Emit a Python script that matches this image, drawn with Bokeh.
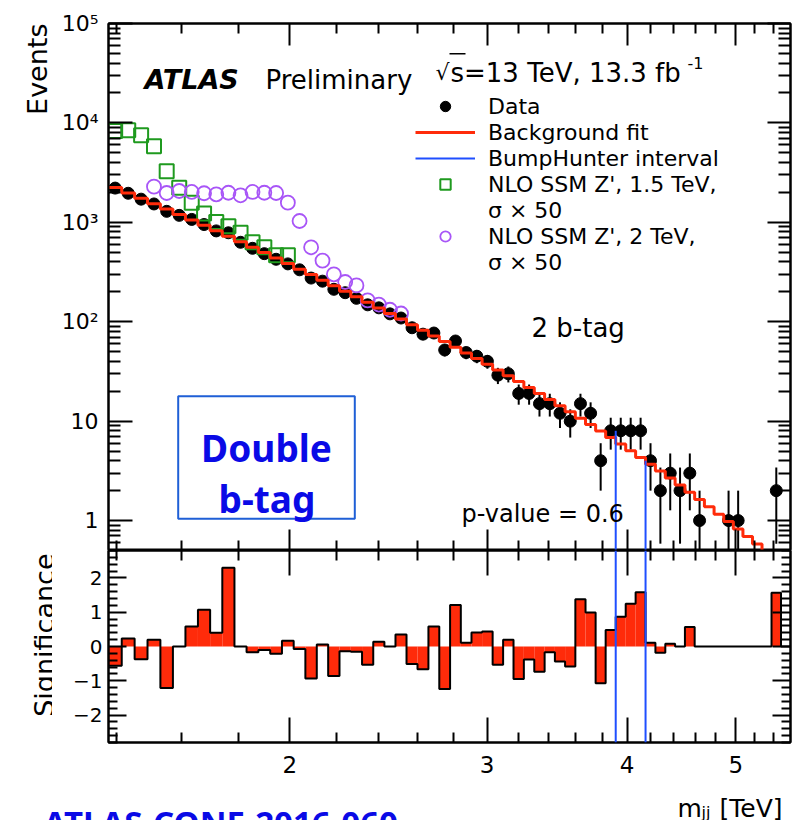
import math
from bokeh.plotting import figure
from bokeh.layouts import column, row
from bokeh.models import (FixedTicker, LogAxis, LinearAxis, Label, Legend, LegendItem,
                          BoxAnnotation, Span)
from bokeh.embed import file_html
from bokeh.resources import INLINE

# ---------------- data ----------------
bin_edges = [1.378, 1.416, 1.454, 1.493, 1.533, 1.573, 1.614, 1.656, 1.698, 1.741,
             1.785, 1.830, 1.875, 1.921, 1.968, 2.016, 2.065, 2.114, 2.164, 2.215,
             2.267, 2.320, 2.374, 2.429, 2.485, 2.542, 2.600, 2.659, 2.719, 2.780,
             2.842, 2.905, 2.969, 3.034, 3.100, 3.167, 3.235, 3.305, 3.376, 3.448,
             3.521, 3.596, 3.672, 3.749, 3.827, 3.907, 3.988, 4.070, 4.154, 4.239,
             4.326, 4.414, 4.504, 4.595, 4.688, 4.782, 4.878, 4.975, 5.074, 5.175,
             5.277, 5.381, 5.487, 5.595]

data_counts = [2210, 1960, 1710, 1530, 1290, 1175, 1070, 950, 820, 785,
               630, 548, 484, 425, 382, 333, 275, 256, 212, 196,
               172, 148, 138, 120, 109, 87, 75, 77, 52, 64,
               49, 45, 40, 29, 30, 19, 19, 15, 15, 12,
               10, 15, 12, 4, 8, 8, 8, 8, 4, 2,
               3, 2, 3, 1, 0, 0, 1, 1, 0, 0,
               0, 2, 0]

bkg_fit = [2239, 1977, 1746, 1541, 1360, 1200, 1058, 933, 823, 725,
           639, 563, 496, 437, 385, 338, 298, 262, 230.5, 202.7,
           178.2, 156.7, 137.7, 121.0, 106.3, 93.3, 81.9, 71.9, 63.1, 55.4,
           48.6, 42.7, 37.4, 32.7, 28.6, 25.0, 21.8, 19.0, 16.5, 14.3,
           12.4, 10.7, 9.26, 7.98, 6.86, 5.89, 5.05, 4.32, 3.69, 3.15,
           2.68, 2.28, 1.93, 1.63, 1.38, 1.16, 0.98, 0.825, 0.693, 0.580,
           0.486, 0.406, 0.339]

significance = [-0.56, 0.23, -0.37, 0.20, -1.21, 0.0, 0.58, 1.07, 0.40, 2.30,
                0.0, -0.17, -0.10, -0.21, 0.17, -0.07, -0.93, 0.06, -0.86, -0.14,
                -0.15, -0.53, 0.14, 0.0, 0.35, -0.51, -0.66, 0.58, -1.24, 1.21,
                0.11, 0.41, 0.44, -0.53, 0.20, -0.95, -0.38, -0.74, -0.17, -0.44,
                -0.58, 1.38, 0.99, -1.07, 0.48, 0.87, 1.25, 1.58, 0.11, -0.18,
                0.08, 0.0, 0.57, 0.0, 0.0, 0.0, 0.0, 0.0, 0.0, 0.0,
                0.0, 1.57, 0.0]

zp15_first_bin = 0
zp15_values = [8300, 8430, 7510, 5820, 3270, 2225, 1570, 1225, 1008, 912,
               784, 629, 561, 466, 466]
zp20_first_bin = 3
zp20_values = [2285, 1972, 2066, 2020, 1960, 1914, 1983, 1871, 2020, 1983,
               1972, 1578, 1031, 561, 412, 300, 251, 232, 164, 149,
               132, 121]

bump_lo, bump_hi = 3.907, 4.154

x_major_ticks = [2, 3, 4, 5]
x_minor_ticks = [1.4, 1.6, 1.8, 2.2, 2.4, 2.6, 2.8, 3.2, 3.4, 3.6, 3.8,
                 4.2, 4.4, 4.6, 4.8, 5.2, 5.4]
y_major_ticks = [1, 10, 100, 1000, 10000, 100000]
y_tick_labels = ["1", "10", "10²", "10³", "10⁴", "10⁵"]
sig_major_ticks = [-2, -1, 0, 1, 2]
sig_tick_labels = ["−2", "−1", "0", "1", "2"]

# ---------------- styling ----------------
FONT = "DejaVu Sans"
RED = "#ff2b0a"
GREEN = "#1f9a1f"
PURPLE = "#a855f7"
BLUE = "#1f4fff"
NOTE_BLUE = "#0a0ae6"

X0, X1 = bin_edges[0], bin_edges[-1]
Y0, Y1 = 0.5, 1e5
S0, S1 = -2.8, 2.8
WL = 52                    # strip holding the rotated axis titles
FL, FR = 108, 790          # frame left/right in page px
UT, UB = 23, 550           # upper frame top/bottom
LB = 742                   # lower frame bottom
P2B = 41                   # lower figure bottom border (tick labels)
TOP3 = LB + P2B
P3H = 820 - TOP3           # strip under the lower panel

LX0, LX1 = math.log10(X0), math.log10(X1)
LY0, LY1 = math.log10(Y0), math.log10(Y1)


def ux(px):
    return 10 ** (LX0 + (px - FL) / (FR - FL) * (LX1 - LX0))


def uy(py):
    return 10 ** (LY1 - (py - UT) / (UB - UT) * (LY1 - LY0))


def mk_axis(cls, ticker, tin, tmin, overrides=None, size="22px", standoff=8):
    ax = cls(ticker=ticker)
    ax.major_tick_in = tin
    ax.major_tick_out = 0
    ax.minor_tick_in = tmin
    ax.minor_tick_out = 0
    ax.major_tick_line_width = 2
    ax.minor_tick_line_width = 2
    ax.axis_line_width = 2
    if overrides is None:
        ax.major_label_overrides = {t: "" for t in ticker.ticks}
        ax.major_label_text_font_size = "0px"
        ax.major_label_standoff = 0
    else:
        ax.major_label_overrides = overrides
        ax.major_label_text_font = FONT
        ax.major_label_text_font_size = size
        ax.major_label_text_color = "black"
        ax.major_label_standoff = standoff
    return ax


xt = FixedTicker(ticks=x_major_ticks, minor_ticks=x_minor_ticks)
yt_minor = [m * 10 ** d for d in range(-1, 5) for m in range(2, 10) if Y0 < m * 10 ** d < Y1]
yt = FixedTicker(ticks=y_major_ticks, minor_ticks=yt_minor)
st_minor = [round(S0 + 0.2 * i, 1) for i in range(29)]
st_minor = [v for v in st_minor if abs(v - round(v)) > 1e-6]
st = FixedTicker(ticks=sig_major_ticks, minor_ticks=st_minor)


def base_style(p, outline=True):
    p.grid.visible = False
    p.outline_line_color = "black" if outline else None
    p.outline_line_width = 2
    p.background_fill_color = "white"
    p.border_fill_color = "white"


def txt(fig, x, y, text, size, style="normal", font=FONT, color="black",
        align="left", angle=0.0, baseline="alphabetic"):
    fig.add_layout(Label(x=x, y=y, text=text, text_font=font,
                         text_font_size=size, text_font_style=style,
                         text_color=color, text_align=align, angle=angle,
                         text_baseline=baseline))


# ---------------- upper panel ----------------
p1 = figure(width=792 - WL, height=UB, x_axis_type="log", y_axis_type="log",
            x_range=(X0, X1), y_range=(Y0, Y1), output_backend="svg",
            toolbar_location=None, x_axis_location=None, y_axis_location=None,
            min_border_left=FL - WL, min_border_right=792 - FR, min_border_top=UT,
            min_border_bottom=0)
base_style(p1)

p1.add_layout(mk_axis(LogAxis, xt, 21, 10), "below")
p1.add_layout(mk_axis(LogAxis, xt, 22, 10), "above")
p1.add_layout(mk_axis(LogAxis, yt, 24, 12, dict(zip(y_major_ticks, y_tick_labels)),
                      "22px", 10), "left")
p1.add_layout(mk_axis(LogAxis, yt, 23, 12), "right")

centers = [(a + b) / 2 for a, b in zip(bin_edges[:-1], bin_edges[1:])]
dx = [c for c, n in zip(centers, data_counts) if n > 0]
dn = [n for n in data_counts if n > 0]
err_lo = [max(n - math.sqrt(n), 0.05) for n in dn]
err_hi = [n + math.sqrt(n) for n in dn]

fx, fy = [], []
for i, b in enumerate(bkg_fit):
    fx += [bin_edges[i], bin_edges[i + 1]]
    fy += [b, b]

p1.segment(x0=dx, y0=err_lo, x1=dx, y1=err_hi, line_color="black", line_width=2)
r_data = p1.scatter(x=dx, y=dn, size=12, marker="circle", fill_color="black",
                    line_color="black")

z15x = centers[zp15_first_bin:zp15_first_bin + len(zp15_values)]
r_z15 = p1.scatter(x=z15x, y=zp15_values, marker="square", size=14,
                   fill_color=None, line_color=GREEN, line_width=2)
z20x = centers[zp20_first_bin:zp20_first_bin + len(zp20_values)]
r_z20 = p1.scatter(x=z20x, y=zp20_values, marker="circle", size=14,
                   fill_color=None, line_color=PURPLE, line_width=1.8)

r_fit = p1.line(x=fx, y=fy, line_color=RED, line_width=3)

i_lo = bin_edges.index(bump_lo)
i_hi = bin_edges.index(bump_hi)
r_bump = p1.segment(x0=[bump_lo, bump_hi], y0=[0.3, 0.3], x1=[bump_lo, bump_hi],
                    y1=[data_counts[i_lo], data_counts[i_hi]], line_color=BLUE,
                    line_width=2)
r_blank = p1.scatter(x=[], y=[], marker="circle", size=1, fill_alpha=0, line_alpha=0)

legend = Legend(items=[
    LegendItem(label="Data", renderers=[r_data]),
    LegendItem(label="Background fit", renderers=[r_fit]),
    LegendItem(label="BumpHunter interval", renderers=[r_bump]),
    LegendItem(label="NLO SSM Z', 1.5 TeV,", renderers=[r_z15]),
    LegendItem(label="σ × 50", renderers=[r_blank]),
    LegendItem(label="NLO SSM Z', 2 TeV,", renderers=[r_z20]),
    LegendItem(label="σ × 50", renderers=[r_blank]),
], location=(415 - FL, UB - 93 - 182), orientation="vertical",
    glyph_width=60, glyph_height=26, label_height=26, label_standoff=13,
    spacing=0, padding=0, margin=0, border_line_color=None,
    background_fill_alpha=0, label_text_font=FONT, label_text_font_size="22px",
    label_text_color="black")
p1.add_layout(legend)

txt(p1, ux(144), uy(79), "ATLAS", "27px", style="bold italic")
txt(p1, ux(265), uy(79), "Preliminary", "26px")
txt(p1, ux(435), uy(72), "√", "22px")
txt(p1, ux(450), uy(72), "s=13 TeV, 13.3 fb", "26px")
txt(p1, ux(687), uy(62), "-1", "16px")
p1.add_layout(BoxAnnotation(left=ux(449), right=ux(465), top=uy(52.5), bottom=uy(54),
                            fill_color="black", fill_alpha=1, line_alpha=0))
txt(p1, ux(531), uy(327), "2 b-tag", "26px")
txt(p1, ux(461), uy(513), "p-value = 0.6", "24px")

p1.add_layout(BoxAnnotation(left=ux(177.7), right=ux(354.3), top=uy(395.7),
                            bottom=uy(518.3), fill_alpha=0, line_color="#1f5fd6",
                            line_alpha=1, line_width=2))
txt(p1, ux(266), uy(447), "Double", "37px", style="bold", font="Noto Sans",
    color=NOTE_BLUE, align="center")
txt(p1, ux(266.5), uy(498), "b-tag", "37px", style="bold", font="Noto Sans",
    color=NOTE_BLUE, align="center")

# ---------------- lower panel ----------------
p2 = figure(width=792 - WL, height=(LB - UB) + P2B, x_axis_type="log", x_range=p1.x_range,
            y_range=(S0, S1), output_backend="svg", toolbar_location=None,
            x_axis_location=None, y_axis_location=None,
            min_border_left=FL - WL, min_border_right=792 - FR, min_border_top=0,
            min_border_bottom=P2B)
base_style(p2)

p2.add_layout(mk_axis(LogAxis, xt, 25, 10, {t: str(t) for t in x_major_ticks},
                      "23px", 13), "below")
p2.add_layout(mk_axis(LogAxis, xt, 25, 10), "above")
p2.add_layout(mk_axis(LinearAxis, st, 18, 9, dict(zip(sig_major_ticks, sig_tick_labels)),
                      "20px", 6), "left")
p2.add_layout(mk_axis(LinearAxis, st, 18, 9), "right")

p2.quad(left=bin_edges[:-1], right=bin_edges[1:], bottom=0, top=significance,
        fill_color=RED, line_color=None)
sx, sy = [bin_edges[0]], [0]
for i, s in enumerate(significance):
    sx += [bin_edges[i], bin_edges[i + 1]]
    sy += [s, s]
sx.append(bin_edges[-1])
sy.append(0)
p2.line(x=sx, y=sy, line_color="black", line_width=2)
p2.add_layout(Span(location=bump_lo, dimension="height", line_color=BLUE, line_width=2))
p2.add_layout(Span(location=bump_hi, dimension="height", line_color=BLUE, line_width=2))

# ---------------- left strip: rotated axis titles (page px coordinates) ----------------
pL = figure(width=WL, height=TOP3, x_range=(0, WL), y_range=(TOP3, 0),
            output_backend="svg", toolbar_location=None, x_axis_location=None,
            y_axis_location=None, min_border=0)
base_style(pL, outline=False)
txt(pL, 37, UT, "Events", "27px", align="right", angle=math.pi / 2)
txt(pL, 44, 553, "Significance", "27px", align="right", angle=math.pi / 2)

# ---------------- bottom strip: x-axis title and note (page px coordinates) ----------------
p3 = figure(width=792, height=P3H, x_range=(0, 792), y_range=(TOP3 + P3H, TOP3),
            output_backend="svg", toolbar_location=None, x_axis_location=None,
            y_axis_location=None, min_border=0)
base_style(p3, outline=False)
txt(p3, 677, 808, "m", "25px")
txt(p3, 701, 812, "jj", "16px")
txt(p3, 719, 808, "[TeV]", "25px")
txt(p3, 43, 799, "ATLAS-CONF-2016-060", "33px", style="bold", font="Noto Sans",
    color=NOTE_BLUE, baseline="top")

layout = column(row(pL, column(p1, p2, spacing=0), spacing=0), p3, spacing=0)
open("out.html", "w").write(file_html(layout, INLINE))
